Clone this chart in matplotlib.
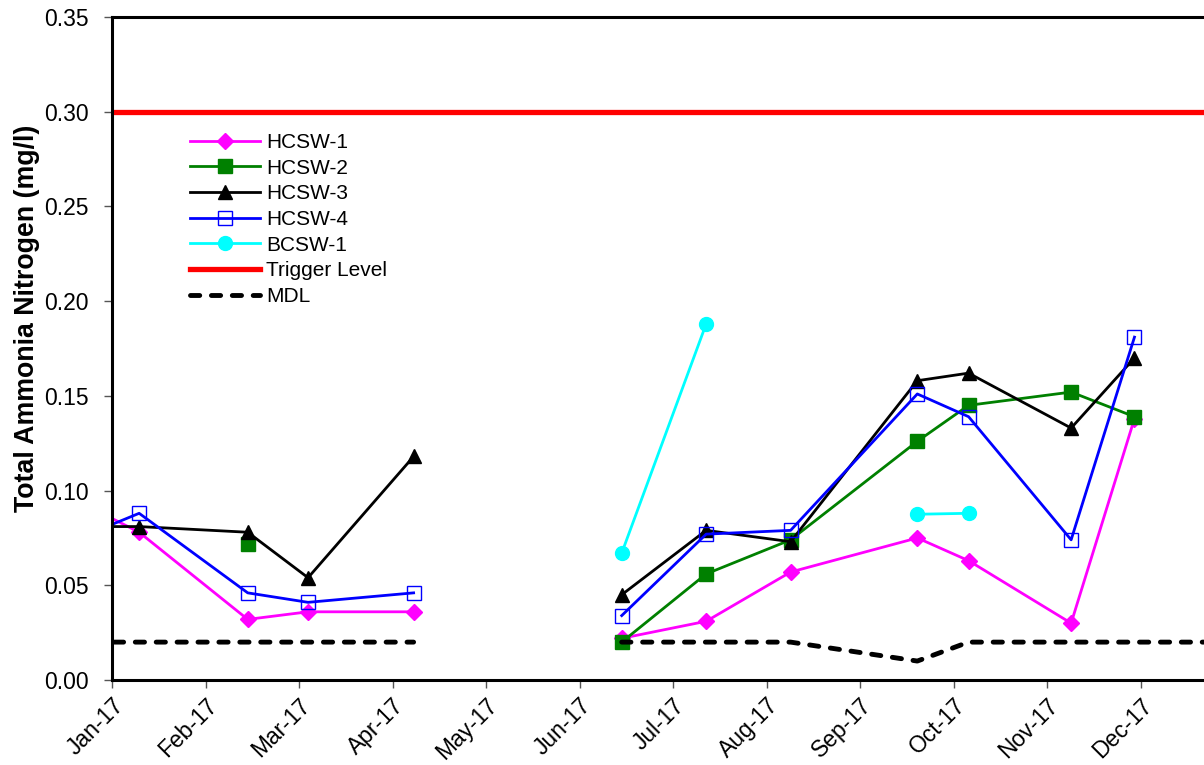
import numpy as np
import matplotlib
matplotlib.use("Agg")
import matplotlib.pyplot as plt
import matplotlib.dates as mdates
from datetime import datetime, timedelta

plt.rcParams['font.family'] = ['Liberation Sans', 'DejaVu Sans']

# sample dates (first and last lie outside the visible range)
dates = ["2016-12-12", "2017-01-10", "2017-02-15", "2017-03-07", "2017-04-11",
         "2017-05-15", "2017-06-19", "2017-07-17", "2017-08-14", "2017-09-25",
         "2017-10-12", "2017-11-15", "2017-12-06", "2018-01-15"]
nan = np.nan
hcsw1 = [0.1015, 0.078, 0.032, 0.036, 0.036, nan, 0.022, 0.031, 0.057, 0.075, 0.063, 0.030, 0.138, nan]
hcsw2 = [nan, nan, 0.072, nan, nan, nan, 0.020, 0.056, 0.074, 0.126, 0.145, 0.152, 0.139, nan]
hcsw3 = [0.081, 0.081, 0.078, 0.054, 0.118, nan, 0.045, 0.079, 0.073, 0.158, 0.162, 0.133, 0.170, nan]
hcsw4 = [0.069, 0.088, 0.046, 0.041, 0.046, nan, 0.034, 0.077, 0.079, 0.151, 0.139, 0.074, 0.181, nan]
bcsw1 = [nan, nan, nan, nan, nan, nan, 0.067, 0.188, nan, 0.0875, 0.088, nan, nan, nan]
trigger = [0.30] * len(dates)
mdl = [0.02, 0.02, 0.02, 0.02, 0.02, nan, 0.02, 0.02, 0.02, 0.01, 0.02, 0.02, 0.02, 0.02]

x = [datetime.strptime(d, "%Y-%m-%d") for d in dates]

fig = plt.figure(figsize=(12.04, 7.65), dpi=100)
ax = fig.add_axes([112 / 1204, 1 - 680 / 765, 1122 / 1204, 663 / 765])

ax.plot(x, hcsw1, color='#FF00FF', lw=2.0, marker='D', ms=8, label='HCSW-1')
ax.plot(x, hcsw2, color='#008000', lw=2.0, marker='s', ms=10, label='HCSW-2')
ax.plot(x, hcsw3, color='black', lw=2.0, marker='^', ms=10, label='HCSW-3')
ax.plot(x, hcsw4, color='#0000FF', lw=2.0, marker='s', ms=10, mfc='none', mew=1.0, label='HCSW-4')
ax.plot(x, bcsw1, color='#00FFFF', lw=2.0, marker='o', ms=10, label='BCSW-1')
ax.plot(x, trigger, color='#FF0000', lw=3.8, label='Trigger Level')
ax.plot(x, mdl, color='black', lw=3.5, dashes=(1.9, 2.4), dash_capstyle='round', label='MDL')

# month ticks every 31 days, as in the source chart
start = datetime(2017, 1, 1)
ax.set_xlim(start, start + timedelta(days=372))
ax.set_xticks([start + timedelta(days=31 * k) for k in range(12)])
ax.xaxis.set_major_formatter(mdates.DateFormatter('%b-%y'))
ax.set_ylim(0, 0.35)
ax.set_yticks(np.arange(0, 0.351, 0.05))
ax.yaxis.set_major_formatter(matplotlib.ticker.FormatStrFormatter('%.2f'))

for lab in ax.get_xticklabels():
    lab.set_rotation(45)
    lab.set_ha('right')
    lab.set_rotation_mode('anchor')
ax.tick_params(axis='both', labelsize=16.5, direction='out', length=6, width=1, color='#555555')
ax.tick_params(axis='y', pad=10.5)
ax.tick_params(axis='x', pad=4)

for sp in ax.spines.values():
    sp.set_linewidth(2.2)

ax.set_ylabel('Total Ammonia Nitrogen (mg/l)', fontsize=19.3, fontweight='bold')
ax.yaxis.set_label_coords(-0.064, 0.546)

leg = ax.legend(loc='upper left', bbox_to_anchor=(190 / 1204, 1 - 133 / 765),
                bbox_transform=fig.transFigure, frameon=False, fontsize=15,
                handlelength=3.35, handletextpad=0.3, labelspacing=0.32,
                borderpad=0, borderaxespad=0, numpoints=1)

fig.savefig('out.png', dpi=100)
